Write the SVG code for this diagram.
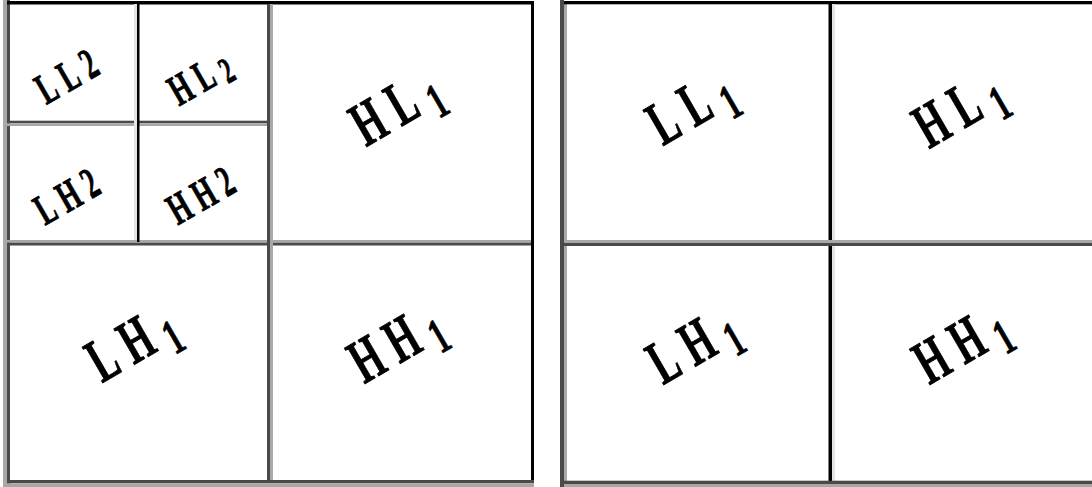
<svg xmlns="http://www.w3.org/2000/svg" width="1092" height="487" viewBox="0 0 1092 487">
  <style>
    .lbl { font-family: "Liberation Serif", "Times New Roman", serif; font-weight: bold; fill: #000; stroke: #000; stroke-width: 0.9px; }
    .big { font-size: 63px; letter-spacing: 19px; }
    .small { font-size: 44px; letter-spacing: 13px; }
    .sub { font-size: 50px; }
    .subs { font-size: 37px; }
    .dk { fill: #4a4a4a; }
    .gr { fill: #a8a8a8; }
    .bk { fill: #000; }
    .lt { fill: #e4e4e4; }
  </style>
  <rect width="1092" height="487" fill="#fff"/>

  <g id="grid-left">
    <rect class="gr" x="3" y="0" width="4" height="487"/>
    <rect class="dk" x="7" y="0" width="3" height="484"/>
    <rect class="bk" x="7" y="1" width="527" height="3.5"/>
    <rect class="bk" x="531" y="1" width="3" height="482"/>
    <rect class="dk" x="7" y="480" width="527" height="3.3"/>
    <rect class="gr" x="7" y="483.3" width="527" height="3.7"/>
    <rect class="gr" x="7" y="240" width="524" height="2.7"/>
    <rect class="dk" x="7" y="242.7" width="524" height="2.8"/>
    <rect class="dk" x="267" y="4" width="3" height="476"/>
    <rect class="gr" x="270" y="4" width="3" height="476"/>
    <rect class="dk" x="7" y="120.7" width="260" height="2.6"/>
    <rect class="gr" x="7" y="123.3" width="260" height="2.7"/>
    <rect class="lt" x="134" y="4" width="3" height="236"/>
    <rect class="bk" x="137" y="4" width="2.5" height="238"/>
  </g>

  <g id="grid-right">
    <rect class="dk" x="560" y="0" width="4" height="487"/>
    <rect class="gr" x="564" y="4" width="3" height="483"/>
    <rect class="bk" x="564" y="1" width="528" height="3.3"/>
    <rect class="bk" x="828.5" y="4" width="3.5" height="477"/>
    <rect class="lt" x="832" y="4" width="3" height="477"/>
    <rect class="gr" x="564" y="240" width="528" height="3"/>
    <rect class="dk" x="564" y="243" width="528" height="3"/>
    <rect class="dk" x="564" y="480.7" width="528" height="3.3"/>
    <rect class="gr" x="564" y="484" width="528" height="3"/>
  </g>

  <g id="cell-LL2" transform="translate(67,77) rotate(-30) scale(0.6,1)">
    <text class="lbl small" x="6.5" y="14" text-anchor="middle">LL2</text>
  </g>
  <g id="cell-HL2" transform="translate(201,80) rotate(-30) scale(0.6,1)">
    <text class="lbl small" x="6.5" y="12" text-anchor="middle">HL<tspan class="subs" dy="5">2</tspan></text>
  </g>
  <g id="cell-LH2" transform="translate(67,197) rotate(-30) scale(0.6,1)">
    <text class="lbl small" x="6.5" y="14" text-anchor="middle">LH2</text>
  </g>
  <g id="cell-HH2" transform="translate(201,196) rotate(-30) scale(0.6,1)">
    <text class="lbl small" x="6.5" y="14" text-anchor="middle">HH2</text>
  </g>
  <g id="cell-HL1-left" transform="translate(399,112) rotate(-30) scale(0.6,1)">
    <text class="lbl big" x="9.5" y="14" text-anchor="middle">HL<tspan class="sub" dy="12">1</tspan></text>
  </g>
  <g id="cell-LH1-left" transform="translate(135,348) rotate(-30) scale(0.6,1)">
    <text class="lbl big" x="9.5" y="14" text-anchor="middle">LH<tspan class="sub" dy="12">1</tspan></text>
  </g>
  <g id="cell-HH1-left" transform="translate(399,348) rotate(-30) scale(0.6,1)">
    <text class="lbl big" x="9.5" y="14" text-anchor="middle">HH<tspan class="sub" dy="12">1</tspan></text>
  </g>
  <g id="cell-LL1-right" transform="translate(694,112) rotate(-30) scale(0.6,1)">
    <text class="lbl big" x="9.5" y="14" text-anchor="middle">LL<tspan class="sub" dy="12">1</tspan></text>
  </g>
  <g id="cell-HL1-right" transform="translate(962,114) rotate(-30) scale(0.6,1)">
    <text class="lbl big" x="9.5" y="14" text-anchor="middle">HL<tspan class="sub" dy="12">1</tspan></text>
  </g>
  <g id="cell-LH1-right" transform="translate(696,350) rotate(-30) scale(0.6,1)">
    <text class="lbl big" x="9.5" y="14" text-anchor="middle">LH<tspan class="sub" dy="12">1</tspan></text>
  </g>
  <g id="cell-HH1-right" transform="translate(964,349) rotate(-30) scale(0.6,1)">
    <text class="lbl big" x="9.5" y="14" text-anchor="middle">HH<tspan class="sub" dy="12">1</tspan></text>
  </g>
</svg>
